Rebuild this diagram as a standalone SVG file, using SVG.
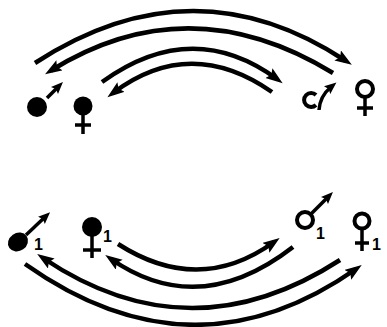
<svg xmlns="http://www.w3.org/2000/svg" width="387" height="327" viewBox="0 0 387 327">
<defs>
<marker id="big" markerUnits="userSpaceOnUse" markerWidth="18" markerHeight="13" refX="10" refY="6" orient="auto">
<path d="M0,0 L17,6 L0,12 L3,6 z" fill="#000"/>
</marker>
<marker id="small" markerUnits="userSpaceOnUse" markerWidth="13" markerHeight="11" refX="5" refY="5" orient="auto">
<path d="M0,0 L12,5 L0,10 L2,5 z" fill="#000"/>
</marker>
<style>
.arc{fill:none;stroke:#000;stroke-width:4.5;marker-end:url(#big)}
.ln{fill:none;stroke:#000;stroke-width:3.5}
.sarr{fill:none;stroke:#000;stroke-width:3.5;marker-end:url(#small)}
.open{fill:none;stroke:#000;stroke-width:4}
.fill{fill:#000}
.num{font-family:"Liberation Sans",Arial,sans-serif;font-weight:bold;font-size:16px;fill:#000}
</style>
</defs>
<rect width="387" height="327" fill="#fff"/>
<g id="connectors">
<path class="arc" d="M35,63 Q193,-40 346,61"/>
<path class="arc" d="M333,73 Q189,-15 51,70.5"/>
<path class="arc" d="M102,82 Q192,17 277,79"/>
<path class="arc" d="M272,92 Q190,35 113,93"/>
<path class="arc" d="M118,244 Q199,296 274,242"/>
<path class="arc" d="M293,247 Q199,320 111,259"/>
<path class="arc" d="M340,260 Q190,357 43,258"/>
<path class="arc" d="M25,264 Q193,383 356,269"/>
</g>
<g id="male-affected-top">
<circle class="fill" cx="37" cy="107" r="10"/>
<path class="sarr" d="M47,98 L58,87"/>
</g>
<g id="female-affected-top">
<circle class="fill" cx="83" cy="106" r="9.5"/>
<path class="ln" d="M83,114 V134 M75,125 H91"/>
</g>
<g id="male-normal-top">
<path class="open" d="M316,95 A7,7 0 1 0 316,105"/>
<path class="sarr" d="M319,110 Q320,96 331,87"/>
</g>
<g id="female-normal-top">
<circle class="open" cx="365" cy="89" r="8"/>
<path class="ln" d="M365,97 V116 M357,108 H373"/>
</g>
<g id="male-affected-bottom">
<ellipse class="fill" cx="18" cy="242" rx="10.5" ry="9" transform="rotate(-35 18 242)"/>
<path class="sarr" d="M26,235 L45,217"/>
<text class="num" x="34" y="250">1</text>
</g>
<g id="female-affected-bottom">
<circle class="fill" cx="92" cy="227" r="10"/>
<path class="ln" d="M92,236 V258 M83,250 H101"/>
<text class="num" x="103" y="242">1</text>
</g>
<g id="male-normal-bottom">
<circle class="open" cx="305" cy="220" r="8"/>
<path class="sarr" d="M311,214 L328,197"/>
<text class="num" x="316" y="239">1</text>
</g>
<g id="female-normal-bottom">
<circle class="open" cx="362" cy="221" r="7.5"/>
<path class="ln" d="M362,229 V251 M355,243 H369"/>
<text class="num" x="372" y="250">1</text>
</g>
</svg>
